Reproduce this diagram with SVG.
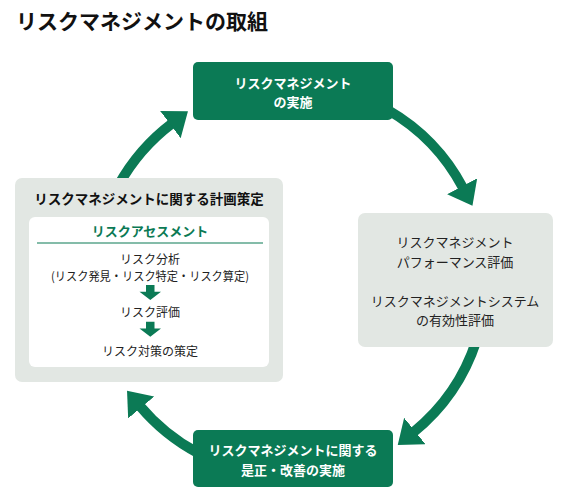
<svg xmlns="http://www.w3.org/2000/svg" width="561" height="497" viewBox="0 0 561 497">
  <defs>
    <style>
      text { font-family: "Noto Sans CJK JP", "Noto Sans", sans-serif; dominant-baseline: central; text-anchor: middle; }
      .title { font-size: 21px; font-weight: bold; fill: #111; text-anchor: start; }
      .green { fill: #0b7a55; }
      .gray { fill: #e2e7e3; }
      .wt { fill: #ffffff; font-size: 13px; font-weight: bold; }
      .bt { fill: #222; font-size: 13px; }
      .bh { fill: #111; font-size: 13.5px; font-weight: bold; }
      .gt { fill: #0b7a55; font-size: 13px; font-weight: bold; }
      .st { fill: #222; font-size: 12px; }
      .arc { fill: none; stroke: #0b7a55; stroke-width: 10; }
    </style>
    <marker id="head" markerUnits="userSpaceOnUse" markerWidth="40" markerHeight="40" refX="2" refY="17" orient="auto">
      <path d="M0,0 L22,17 L0,34 Z" fill="#0b7a55"/>
    </marker>
  </defs>
  <rect width="561" height="497" fill="#ffffff"/>
  <text class="title" x="16" y="20">リスクマネジメントの取組</text>

  <g id="connectors">
    <path class="arc" d="M388,110 A196,196 0 0 1 463.1,188" marker-end="url(#head)"/>
    <path class="arc" d="M476.4,340.6 A196,196 0 0 1 413.3,432.3" marker-end="url(#head)"/>
    <path class="arc" d="M198,453 A196,196 0 0 1 139.9,406" marker-end="url(#head)"/>
    <path class="arc" d="M118.6,185 A196,196 0 0 1 172,123.4" marker-end="url(#head)"/>
  </g>

  <g id="node-implement">
    <rect class="green" x="193" y="62" width="200" height="58" rx="5"/>
    <text class="wt" x="293" y="82.5">リスクマネジメント</text>
    <text class="wt" x="293" y="101">の実施</text>
  </g>

  <g id="node-evaluate">
    <rect class="gray" x="358" y="213" width="195" height="134" rx="7"/>
    <text class="bt" x="455" y="241.5">リスクマネジメント</text>
    <text class="bt" x="455" y="261">パフォーマンス評価</text>
    <text class="bt" x="455" y="300">リスクマネジメントシステム</text>
    <text class="bt" x="455" y="319">の有効性評価</text>
  </g>

  <g id="node-correct">
    <rect class="green" x="193" y="430" width="200" height="57" rx="5"/>
    <text class="wt" x="293" y="449">リスクマネジメントに関する</text>
    <text class="wt" x="293" y="469">是正・改善の実施</text>
  </g>

  <g id="node-plan">
    <rect class="gray" x="15" y="178" width="268" height="204" rx="7"/>
    <text class="bh" x="149" y="198.3">リスクマネジメントに関する計画策定</text>
    <rect x="29" y="217" width="240" height="150" rx="6" fill="#ffffff"/>
    <text class="gt" x="150" y="230">リスクアセスメント</text>
    <line x1="37" y1="243" x2="263" y2="243" stroke="#0b7a55" stroke-width="1.2"/>
    <text class="st" x="150" y="258.5">リスク分析</text>
    <text class="st" x="150" y="275.5" textLength="198" lengthAdjust="spacingAndGlyphs">(リスク発見・リスク特定・リスク算定)</text>
    <path class="green" d="M146,285 H154.5 V291.7 H161 L150.3,300 L139.5,291.7 H146 Z"/>
    <text class="st" x="150" y="311">リスク評価</text>
    <path class="green" d="M146,321.7 H154.5 V328.4 H161 L150.3,336.7 L139.5,328.4 H146 Z"/>
    <text class="st" x="150" y="350">リスク対策の策定</text>
  </g>
</svg>
